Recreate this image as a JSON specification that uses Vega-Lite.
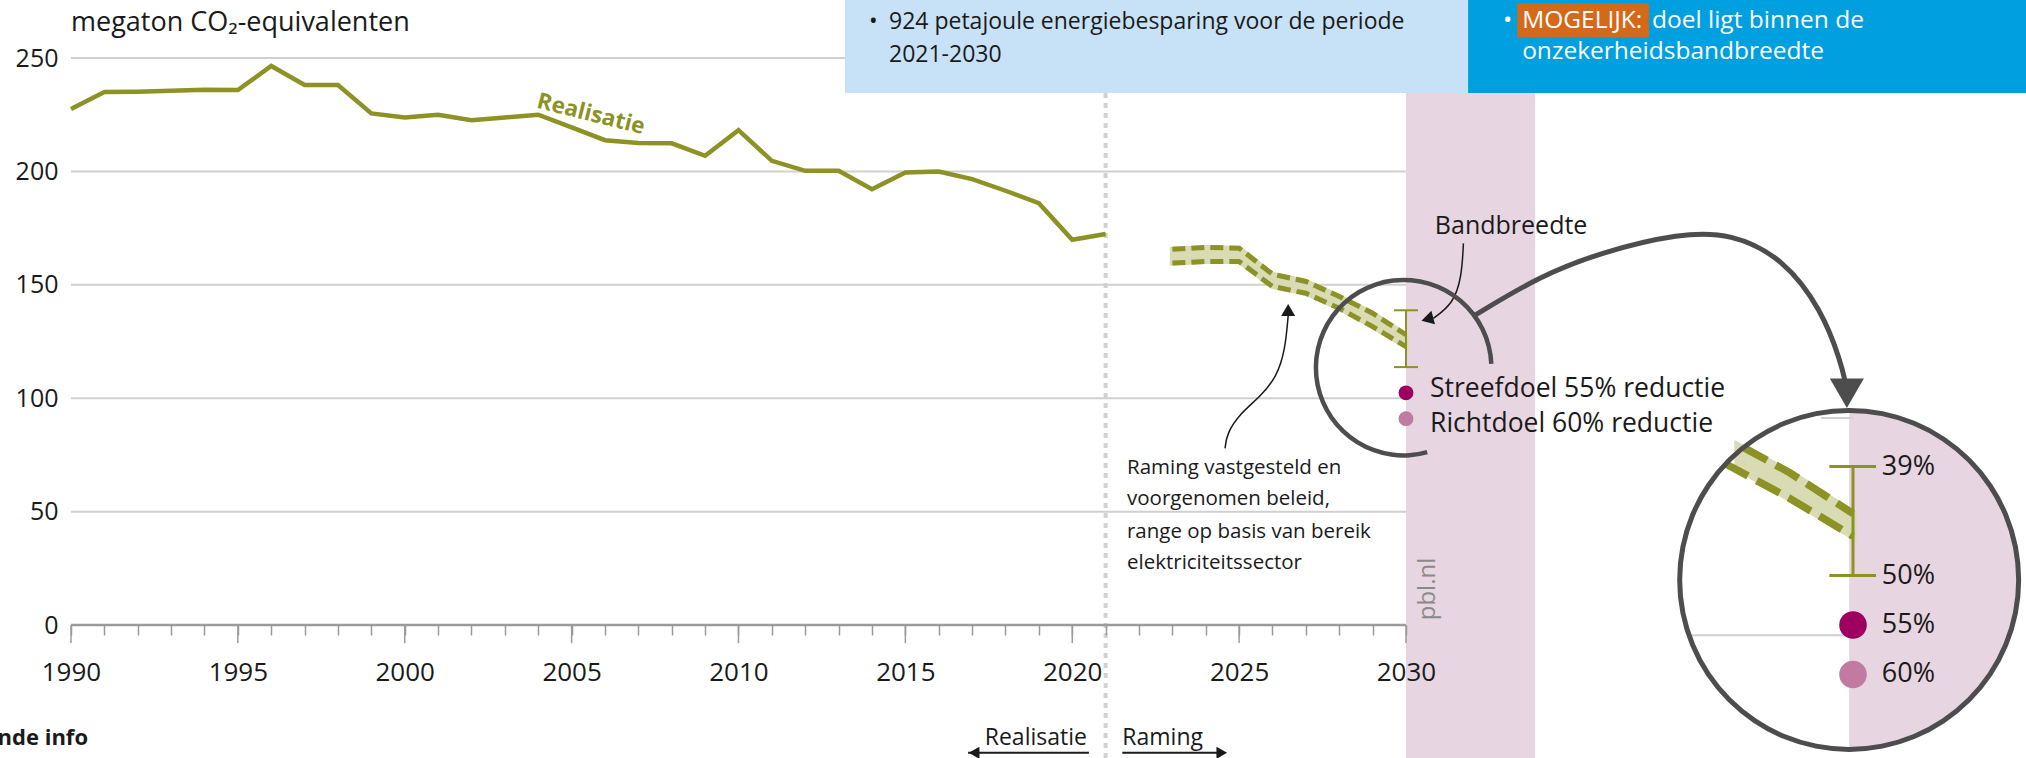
{
"$schema":"https://vega.github.io/schema/vega-lite/v6.json",
"width":2026,"height":758,"autosize":{"type":"none"},"padding":0,"background":"white",
"config":{"view":{"stroke":null},"font":"Open Sans","text":{"font":"Open Sans","color":"#1a1a1a"}},
"layer":[
{"layer":[
{"data":{"values":[{"v":50,"a":1990,"b":2030},{"v":100,"a":1990,"b":2030},{"v":150,"a":1990,"b":2030},{"v":200,"a":1990,"b":2030},{"v":250,"a":1990,"b":2030}]},
 "mark":{"type":"rule","color":"#d0d0d0","strokeWidth":2},
 "encoding":{"x":{"field":"a","type":"quantitative","scale":{"domain":[1987.873,2048.577],"nice":false,"zero":false}},"x2":{"field":"b"},
 "y":{"field":"v","type":"quantitative","scale":{"domain":[-58.6,275.6],"nice":false,"zero":false},"axis":{"orient":"left","offset":-58,"values":[0,50,100,150,200,250],"domain":false,"ticks":false,"grid":false,"labelPadding":0,"labelFontSize":25,"labelColor":"#1a1a1a","labelFont":"Open Sans","title":null}}}},
{"data":{"values":[{"a":2030,"b":2033.87,"c":234.6,"d":-60}]},"mark":{"type":"rect","color":"#e8d5e2"},
 "encoding":{"x":{"field":"a","type":"quantitative","scale":{"domain":[1987.873,2048.577],"nice":false,"zero":false}},"x2":{"field":"b"},"y":{"field":"c","type":"quantitative","scale":{"domain":[-58.6,275.6],"nice":false,"zero":false}},"y2":{"field":"d"}}},
{"data":{"values":[{"a":2013.19,"b":2031.86,"c":280,"d":234.6}]},"mark":{"type":"rect","color":"#c7e2f6"},
 "encoding":{"x":{"field":"a","type":"quantitative"},"x2":{"field":"b"},"y":{"field":"c","type":"quantitative"},"y2":{"field":"d"}}},
{"data":{"values":[{"a":2031.86,"b":2050,"c":280,"d":234.6}]},"mark":{"type":"rect","color":"#009fe0"},
 "encoding":{"x":{"field":"a","type":"quantitative"},"x2":{"field":"b"},"y":{"field":"c","type":"quantitative"},"y2":{"field":"d"}}},
{"data":{"values":[{"a":2033.33,"b":2037.28,"c":274.1,"d":259.1}]},"mark":{"type":"rect","color":"#d5691a"},
 "encoding":{"x":{"field":"a","type":"quantitative"},"x2":{"field":"b"},"y":{"field":"c","type":"quantitative"},"y2":{"field":"d"}}},
{"data":{"values":[{"a":2021,"c":234.6,"d":-60}]},"mark":{"type":"rule","color":"#d2d2d2","strokeWidth":4,"strokeDash":[5,5]},
 "encoding":{"x":{"field":"a","type":"quantitative"},"y":{"field":"c","type":"quantitative"},"y2":{"field":"d"}}},
{"data":{"values":[{"a":1990,"b":2030,"c":0}]},"mark":{"type":"rule","color":"#9b9b9b","strokeWidth":2.5},
 "encoding":{"x":{"field":"a","type":"quantitative"},"x2":{"field":"b"},"y":{"field":"c","type":"quantitative"}}},
{"data":{"values":[{"year":1990},{"year":1995},{"year":2000},{"year":2005},{"year":2010},{"year":2015},{"year":2020},{"year":2025},{"year":2030}]},
 "mark":{"type":"rule","color":"#9b9b9b","strokeWidth":1.5},
 "encoding":{"x":{"field":"year","type":"quantitative","axis":{"orient":"bottom","offset":-133,"zindex":1,"values":[1990,1991,1992,1993,1994,1995,1996,1997,1998,1999,2000,2001,2002,2003,2004,2005,2006,2007,2008,2009,2010,2011,2012,2013,2014,2015,2016,2017,2018,2019,2020,2021,2022,2023,2024,2025,2026,2027,2028,2029,2030],"format":"d","labelExpr":"datum.value % 5 === 0 ? datum.label : ''","domain":false,"ticks":true,"tickSize":10,"tickColor":"#9b9b9b","tickWidth":1.5,"grid":false,"labelFontSize":26,"labelColor":"#1a1a1a","labelFont":"Open Sans","labelPadding":37,"labelBaseline":"middle","labelOverlap":false,"labelFlush":false,"title":null}},
 "y":{"datum":0,"type":"quantitative"},"y2":{"datum":-7.94}}},
{"data":{"values":[{"year":1990,"v":227.5},{"year":1991,"v":235.0},{"year":1992,"v":235.2},{"year":1993,"v":235.6},{"year":1994,"v":236.0},{"year":1995,"v":235.9},{"year":1996,"v":246.5},{"year":1997,"v":238.1},{"year":1998,"v":238.1},{"year":1999,"v":225.6},{"year":2000,"v":223.8},{"year":2001,"v":225.0},{"year":2002,"v":222.6},{"year":2003,"v":223.8},{"year":2004,"v":225.0},{"year":2005,"v":219.4},{"year":2006,"v":213.8},{"year":2007,"v":212.6},{"year":2008,"v":212.4},{"year":2009,"v":206.9},{"year":2010,"v":218.2},{"year":2011,"v":204.7},{"year":2012,"v":200.3},{"year":2013,"v":200.3},{"year":2014,"v":192.2},{"year":2015,"v":199.6},{"year":2016,"v":200.0},{"year":2017,"v":196.6},{"year":2018,"v":191.5},{"year":2019,"v":186.0},{"year":2020,"v":169.9},{"year":2021,"v":172.4}]},
 "mark":{"type":"line","color":"#8c9224","strokeWidth":4.5},
 "encoding":{"x":{"field":"year","type":"quantitative"},"y":{"field":"v","type":"quantitative"}}},
{"data":{"values":[{"year":2023,"lo":159.6,"hi":165.7},{"year":2024,"lo":160.3,"hi":166.5},{"year":2025,"lo":160.3,"hi":166.2},{"year":2026,"lo":149.3,"hi":154.7},{"year":2027,"lo":146.3,"hi":151.5},{"year":2028,"lo":139.7,"hi":144.9},{"year":2029,"lo":131.6,"hi":137.5},{"year":2030,"lo":122.8,"hi":128.0}]},
 "layer":[
  {"mark":{"type":"area","color":"#d9dbb4","stroke":"#d9dbb4","strokeWidth":5},"encoding":{"x":{"field":"year","type":"quantitative"},"y":{"field":"hi","type":"quantitative"},"y2":{"field":"lo"}}},
  {"mark":{"type":"line","color":"#8c9224","strokeWidth":5,"strokeDash":[13,6]},"encoding":{"x":{"field":"year","type":"quantitative"},"y":{"field":"hi","type":"quantitative"}}},
  {"mark":{"type":"line","color":"#8c9224","strokeWidth":5,"strokeDash":[13,6]},"encoding":{"x":{"field":"year","type":"quantitative"},"y":{"field":"lo","type":"quantitative"}}}
 ]},
{"data":{"values":[{"a":2030,"b":2030,"c":113.75,"d":138.8},{"a":2029.64,"b":2030.36,"c":138.8,"d":138.8},{"a":2029.64,"b":2030.36,"c":113.75,"d":113.75}]},
 "mark":{"type":"rule","color":"#8c9224","strokeWidth":2},
 "encoding":{"x":{"field":"a","type":"quantitative"},"x2":{"field":"b"},"y":{"field":"c","type":"quantitative"},"y2":{"field":"d"}}},
{"data":{"values":[{"year":2030,"v":102.4,"k":"Streefdoel"},{"year":2030,"v":91.0,"k":"Richtdoel"}]},
 "mark":{"type":"point","filled":true,"size":220,"opacity":1},
 "encoding":{"x":{"field":"year","type":"quantitative"},"y":{"field":"v","type":"quantitative"},"color":{"field":"k","type":"nominal","scale":{"domain":["Streefdoel","Richtdoel"],"range":["#9e0060","#c27ba0"]},"legend":null}}},
{"data":{"values":[{"x":2024.58,"y":77.9},{"x":2024.63,"y":84.5},{"x":2025.03,"y":93.3},{"x":2025.63,"y":100.7},{"x":2026.13,"y":109.5},{"x":2026.38,"y":121.3},{"x":2026.47,"y":136.5}]},
 "mark":{"type":"line","color":"#1a1a1a","strokeWidth":1.5,"interpolate":"basis"},
 "encoding":{"x":{"field":"x","type":"quantitative"},"y":{"field":"y","type":"quantitative"}}},
{"data":{"values":[{"x":2026.47,"y":138.9}]},"mark":{"type":"point","shape":"triangle-up","filled":true,"size":196,"color":"#1a1a1a","opacity":1},
 "encoding":{"x":{"field":"x","type":"quantitative"},"y":{"field":"y","type":"quantitative"}}},
{"data":{"values":[{"x":2030.82,"y":135.2},{"x":2031.42,"y":141.8},{"x":2031.67,"y":153.6},{"x":2031.72,"y":168.3}]},
 "mark":{"type":"line","color":"#1a1a1a","strokeWidth":1.5,"interpolate":"basis"},
 "encoding":{"x":{"field":"x","type":"quantitative"},"y":{"field":"y","type":"quantitative"}}},
{"data":{"values":[{"x":2030.64,"y":134.9}]},"mark":{"type":"point","shape":"triangle-up","filled":true,"size":196,"angle":255,"color":"#1a1a1a","opacity":1},
 "encoding":{"x":{"field":"x","type":"quantitative"},"y":{"field":"y","type":"quantitative"}}},
{"data":{"values":[{"x":2029.93,"y":113.5}]},"mark":{"type":"arc","color":"#4d4d4d","innerRadius":85.5,"outerRadius":90,"theta":2.87,"theta2":7.81},
 "encoding":{"x":{"field":"x","type":"quantitative"},"y":{"field":"y","type":"quantitative"}}},
{"data":{"values":[{"x":2032.07,"y":136.7},{"x":2034.01,"y":153.9},{"x":2035.87,"y":164.5},{"x":2038.21,"y":172.8},{"x":2039.74,"y":172.8},{"x":2041.3,"y":161.8},{"x":2042.46,"y":138.9},{"x":2043.03,"y":116.0},{"x":2043.18,"y":106.0}]},
 "mark":{"type":"line","color":"#4d4d4d","strokeWidth":5,"interpolate":"basis"},
 "encoding":{"x":{"field":"x","type":"quantitative"},"y":{"field":"y","type":"quantitative"}}},
{"data":{"values":[{"x":2043.21,"y":102.2}]},"mark":{"type":"point","shape":"triangle-down","filled":true,"size":1156,"color":"#4d4d4d","opacity":1},
 "encoding":{"x":{"field":"x","type":"quantitative"},"y":{"field":"y","type":"quantitative"}}},
{"data":{"values":[{"a":2016.88,"b":2020.5,"c":-56.3},{"a":2021.5,"b":2024.4,"c":-56.3}]},"mark":{"type":"rule","color":"#1a1a1a","strokeWidth":2},
 "encoding":{"x":{"field":"a","type":"quantitative"},"x2":{"field":"b"},"y":{"field":"c","type":"quantitative"}}},
{"data":{"values":[{"x":2017.06,"y":-56.3}]},"mark":{"type":"point","shape":"triangle-left","filled":true,"size":150,"color":"#1a1a1a","opacity":1},
 "encoding":{"x":{"field":"x","type":"quantitative"},"y":{"field":"y","type":"quantitative"}}},
{"data":{"values":[{"x":2024.48,"y":-56.3}]},"mark":{"type":"point","shape":"triangle-right","filled":true,"size":150,"color":"#1a1a1a","opacity":1},
 "encoding":{"x":{"field":"x","type":"quantitative"},"y":{"field":"y","type":"quantitative"}}},
{"data":{"values":[{"t":"megaton CO₂-equivalenten","x":1990,"y":265.4}]},"mark":{"type":"text","align":"left","baseline":"middle","fontSize":27},
 "encoding":{"x":{"field":"x","type":"quantitative"},"y":{"field":"y","type":"quantitative"},"text":{"field":"t"}}},
{"data":{"values":[{"t":"Realisatie","x":2005.58,"y":225.3}]},"mark":{"type":"text","align":"center","baseline":"middle","fontSize":22.5,"fontWeight":"bold","angle":14,"color":"#8c9224"},
 "encoding":{"x":{"field":"x","type":"quantitative"},"y":{"field":"y","type":"quantitative"},"text":{"field":"t"}}},
{"data":{"values":[{"t":"Bandbreedte","x":2033.15,"y":176}]},"mark":{"type":"text","align":"center","baseline":"middle","fontSize":25},
 "encoding":{"x":{"field":"x","type":"quantitative"},"y":{"field":"y","type":"quantitative"},"text":{"field":"t"}}},
{"data":{"values":[{"t":"Streefdoel 55% reductie","x":2030.72,"y":104.0},{"t":"Richtdoel 60% reductie","x":2030.72,"y":88.8}]},"mark":{"type":"text","align":"left","baseline":"middle","fontSize":26.5},
 "encoding":{"x":{"field":"x","type":"quantitative"},"y":{"field":"y","type":"quantitative"},"text":{"field":"t"}}},
{"data":{"values":[{"t":"Raming vastgesteld en","x":2021.64,"y":69.2},{"t":"voorgenomen beleid,","x":2021.64,"y":55.6},{"t":"range op basis van bereik","x":2021.64,"y":41.0},{"t":"elektriciteitssector","x":2021.64,"y":27.3}]},"mark":{"type":"text","align":"left","baseline":"middle","fontSize":20.5},
 "encoding":{"x":{"field":"x","type":"quantitative"},"y":{"field":"y","type":"quantitative"},"text":{"field":"t"}}},
{"data":{"values":[{"t":"pbl.nl","x":2030.66,"y":15.9}]},"mark":{"type":"text","align":"center","baseline":"middle","fontSize":24,"angle":270,"color":"#8a8a8a"},
 "encoding":{"x":{"field":"x","type":"quantitative"},"y":{"field":"y","type":"quantitative"},"text":{"field":"t"}}},
{"data":{"values":[{"t":"Realisatie","x":2020.44,"y":-49.6}]},"mark":{"type":"text","align":"right","baseline":"middle","fontSize":23},
 "encoding":{"x":{"field":"x","type":"quantitative"},"y":{"field":"y","type":"quantitative"},"text":{"field":"t"}}},
{"data":{"values":[{"t":"Raming","x":2021.5,"y":-49.6}]},"mark":{"type":"text","align":"left","baseline":"middle","fontSize":23},
 "encoding":{"x":{"field":"x","type":"quantitative"},"y":{"field":"y","type":"quantitative"},"text":{"field":"t"}}},
{"data":{"values":[{"t":"Aanvullende info","x":1990.51,"y":-49.6}]},"mark":{"type":"text","align":"right","baseline":"middle","fontSize":22,"fontWeight":"bold"},
 "encoding":{"x":{"field":"x","type":"quantitative"},"y":{"field":"y","type":"quantitative"},"text":{"field":"t"}}},
{"data":{"values":[{"t":"•","x":2013.91,"y":266.0},{"t":"924 petajoule energiebesparing voor de periode","x":2014.51,"y":266.0},{"t":"2021-2030","x":2014.51,"y":251.3}]},"mark":{"type":"text","align":"left","baseline":"middle","fontSize":23},
 "encoding":{"x":{"field":"x","type":"quantitative"},"y":{"field":"y","type":"quantitative"},"text":{"field":"t"}}},
{"data":{"values":[{"t":"•","x":2032.91,"y":266.4},{"t":"MOGELIJK:","x":2033.48,"y":266.4},{"t":"doel ligt binnen de","x":2037.37,"y":266.4},{"t":"onzekerheidsbandbreedte","x":2033.48,"y":252.8}]},"mark":{"type":"text","align":"left","baseline":"middle","fontSize":24.5,"color":"white"},
 "encoding":{"x":{"field":"x","type":"quantitative"},"y":{"field":"y","type":"quantitative"},"text":{"field":"t"}}}
]},
{"layer":[
{"data":{"values":[{"x":2029.94,"y":112.75}]},"mark":{"type":"arc","color":"#e8d5e2","innerRadius":0,"outerRadius":170,"theta":0,"theta2":3.1416},
 "encoding":{"x":{"field":"x","type":"quantitative","scale":{"domain":[2001.047,2032.703],"nice":false,"zero":false},"axis":null},"y":{"field":"y","type":"quantitative","scale":{"domain":[71.8,246.09],"nice":false,"zero":false},"axis":null}}},
{"data":{"values":[{"a":2029.5,"b":2030,"c":150},{"a":2027.48,"b":2030,"c":100}]},"mark":{"type":"rule","color":"#d0d0d0","strokeWidth":2},
 "encoding":{"x":{"field":"a","type":"quantitative","axis":null},"x2":{"field":"b"},"y":{"field":"c","type":"quantitative","axis":null}}},
{"data":{"values":[{"x":2028.2,"lo":138.6,"hi":143.6},{"x":2029,"lo":131.6,"hi":137.5},{"x":2030,"lo":122.8,"hi":128.0}]},"mark":{"type":"area","color":"#d9dbb4","stroke":"#d9dbb4","strokeWidth":7},
 "encoding":{"x":{"field":"x","type":"quantitative","axis":null},"y":{"field":"hi","type":"quantitative","axis":null},"y2":{"field":"lo"}}},
{"data":{"values":[{"x":2028.3,"v":143.1},{"x":2029,"v":137.5},{"x":2030,"v":128.0}]},"mark":{"type":"line","color":"#8c9224","strokeWidth":7.5,"strokeDash":[26,10]},
 "encoding":{"x":{"field":"x","type":"quantitative","axis":null},"y":{"field":"v","type":"quantitative","axis":null}}},
{"data":{"values":[{"x":2028.0,"v":139.5},{"x":2029,"v":131.6},{"x":2030,"v":122.8}]},"mark":{"type":"line","color":"#8c9224","strokeWidth":7.5,"strokeDash":[26,10]},
 "encoding":{"x":{"field":"x","type":"quantitative","axis":null},"y":{"field":"v","type":"quantitative","axis":null}}},
{"data":{"values":[{"a":2030,"b":2030,"c":113.75,"d":138.8},{"a":2029.63,"b":2030.36,"c":138.8,"d":138.8},{"a":2029.63,"b":2030.36,"c":113.75,"d":113.75}]},
 "mark":{"type":"rule","color":"#8c9224","strokeWidth":3},
 "encoding":{"x":{"field":"a","type":"quantitative","axis":null},"x2":{"field":"b"},"y":{"field":"c","type":"quantitative","axis":null},"y2":{"field":"d"}}},
{"data":{"values":[{"year":2030,"v":102.4,"k":"Streefdoel"},{"year":2030,"v":91.0,"k":"Richtdoel"}]},
 "mark":{"type":"point","filled":true,"size":760,"opacity":1},
 "encoding":{"x":{"field":"year","type":"quantitative","axis":null},"y":{"field":"v","type":"quantitative","axis":null},"color":{"field":"k","type":"nominal","scale":{"domain":["Streefdoel","Richtdoel"],"range":["#9e0060","#c27ba0"]},"legend":null}}},
{"data":{"values":[{"t":"39%","x":2030.45,"y":138.8},{"t":"50%","x":2030.45,"y":113.75},{"t":"55%","x":2030.45,"y":102.4},{"t":"60%","x":2030.45,"y":91.0}]},"mark":{"type":"text","align":"left","baseline":"middle","fontSize":27},
 "encoding":{"x":{"field":"x","type":"quantitative","axis":null},"y":{"field":"y","type":"quantitative","axis":null},"text":{"field":"t"}}},
{"data":{"values":[{"x":2029.94,"y":112.75}]},"mark":{"type":"arc","color":"#4d4d4d","innerRadius":167,"outerRadius":172,"theta":0,"theta2":6.2832},
 "encoding":{"x":{"field":"x","type":"quantitative","axis":null},"y":{"field":"y","type":"quantitative","axis":null}}}
]}
],
"resolve":{"scale":{"x":"independent","y":"independent","color":"independent"}}
}
